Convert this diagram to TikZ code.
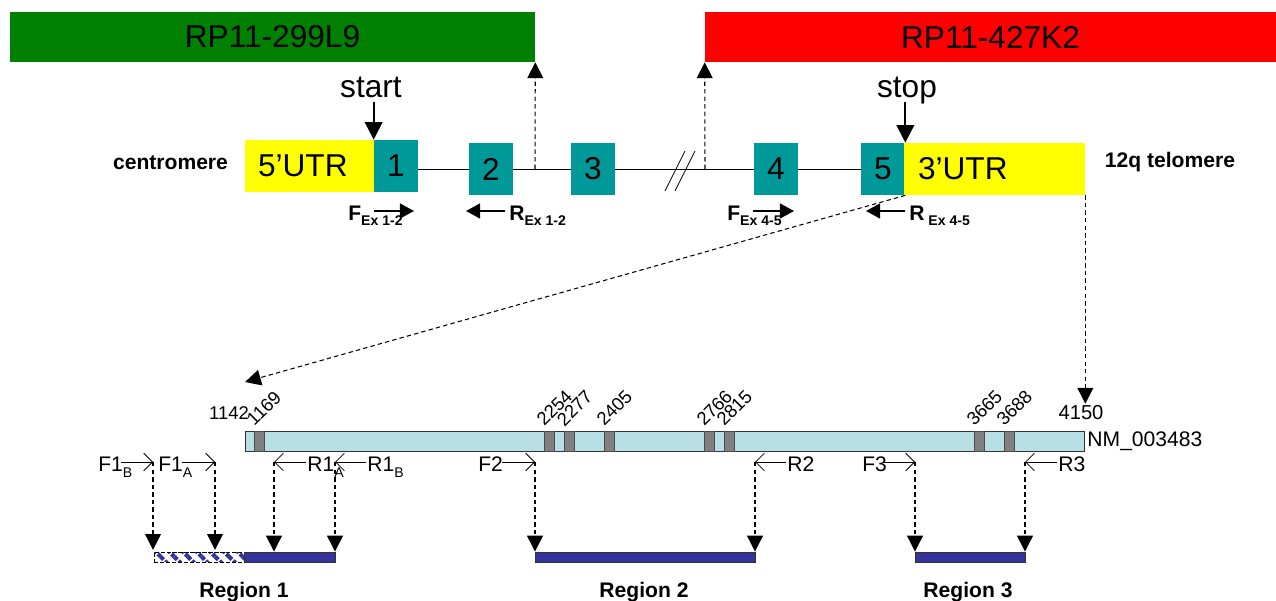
\documentclass[tikz,border=0pt]{standalone}
\usepackage{fontspec}
\setmainfont{Liberation Sans}
\usetikzlibrary{arrows.meta,patterns.meta}
\definecolor{bacvert}{RGB}{0,128,0}
\definecolor{bacrouge}{RGB}{255,0,0}
\definecolor{utrjaune}{RGB}{255,255,0}
\definecolor{exonbleu}{RGB}{0,153,153}
\definecolor{arnm}{RGB}{184,224,228}
\definecolor{snpgris}{RGB}{128,128,128}
\definecolor{ampli}{RGB}{51,51,153}
\newcommand{\amorce}[2]{\textbf{#1}\raisebox{-2.8pt}{\fontsize{8}{9}\selectfont\bfseries #2}}
\newcommand{\psub}[2]{#1\raisebox{-3.4pt}{\fontsize{8}{9}\selectfont #2}}

\begin{document}
\begin{tikzpicture}	[x=0.02cm,y=-0.02cm,
	grand/.style={font=\fontsize{18}{20}\selectfont},
	boite/.style={grand,inner sep=0pt,minimum height=1.04cm},
	gras/.style={font=\fontsize{12}{14}\selectfont\bfseries},
	chiffre/.style={font=\fontsize{10.5}{12}\selectfont,inner sep=1pt},
	petit/.style={font=\fontsize{12}{14}\selectfont,inner sep=0pt},
	bande/.style={draw=black!70,line width=0.5pt,fill=snpgris,minimum width=0.2cm,minimum height=0.4cm,inner sep=0pt},
	ampl/.style={draw=black!80,line width=0.5pt,fill=ampli,minimum height=0.2cm,inner sep=0pt},
	pointille/.style={line width=0.6pt,dash pattern=on 2.5pt off 1.8pt,-{Triangle[length=9pt,width=9pt]}},
	fleche/.style={line width=1.1pt,-{Triangle[length=10pt,width=10pt]}},
	amorceh/.style={line width=0.9pt,-{Triangle[length=8pt,width=8.5pt]}},
	amorceb/.style={line width=0.5pt,-{Straight Barb[length=5pt,width=10pt]}}]

\useasboundingbox (0,0) rectangle (1276,601);

%les clones
\node (bac1) [boite,fill=bacvert,minimum width=10.5cm,minimum height=1cm] at (272.5,37) {RP11-299L9};
\node (bac2) [boite,fill=bacrouge,minimum width=11.42cm,minimum height=1cm] at (990.5,37) {RP11-427K2};

%le gene
\node (utr5) [boite,fill=utrjaune,minimum width=2.58cm,text width=2.06cm,align=left] at (309.5,166) {5'UTR};
\node (ex1) [boite,fill=exonbleu,minimum width=0.88cm] at (396,166) {1};
\node (ex2) [boite,fill=exonbleu,minimum width=0.88cm] at (491,169) {2};
\node (ex3) [boite,fill=exonbleu,minimum width=0.88cm] at (593,169) {3};
\node (ex4) [boite,fill=exonbleu,minimum width=0.88cm] at (776,169) {4};
\node (ex5) [boite,fill=exonbleu,minimum width=0.88cm] at (883,169) {5};
\node (utr3) [boite,fill=utrjaune,minimum width=3.62cm,text width=3.06cm,align=left] at (994.5,169) {3'UTR};
\draw (ex2.west -| ex1.east)--(ex2.west);
\draw (ex2.east)--(ex3.west);
\draw (ex3.east)--(ex4.west);
\draw (ex4.east)--(ex5.west);
\draw (665,191)--(685,151);
\draw (675,191)--(695,151);
\node (centro) [gras,anchor=base] at (170.5,170) {centromere};
\node (telo) [gras,anchor=base] at (1170,168) {12q telomere};

\coordinate (cut1) at (535,169);
\coordinate (cut2) at (705,169);
\draw [pointille] (cut1)--(bac1.south east);
\draw [pointille] (cut2)--(bac2.south west);

\node (start) [grand,anchor=base] at (371,97.5) {start};
\node (stop) [grand,anchor=base] at (907,97.5) {stop};
\coordinate (startb) at ([yshift=-0.09cm]start.base);
\coordinate (stopb) at ([yshift=-0.09cm]stop.base);
\draw [fleche] (startb -| ex1.north west)--(ex1.north west);
\draw [fleche] (stopb -| ex5.north east)--(ex5.north east);

%amorces exons
\node (fex12) [anchor=base west,inner sep=0pt,font=\fontsize{12}{14}\selectfont] at (348,221) {\amorce{F}{Ex 1-2}};
\node (rex12) [anchor=base west,inner sep=0pt,font=\fontsize{12}{14}\selectfont] at (509,221) {\amorce{R}{Ex 1-2}};
\node (fex45) [anchor=base west,inner sep=0pt,font=\fontsize{12}{14}\selectfont] at (727,221) {\amorce{F}{Ex 4-5}};
\node (rex45) [anchor=base west,inner sep=0pt,font=\fontsize{12}{14}\selectfont] at (909,221) {\amorce{R}{\ Ex 4-5}};
\coordinate (f12a) at (374,211); \coordinate (f12b) at (414,211);
\coordinate (r12a) at (505,211); \coordinate (r12b) at (466,211);
\coordinate (f45a) at (753,211); \coordinate (f45b) at (794,211);
\coordinate (r45a) at (905,211); \coordinate (r45b) at (866,211);
\draw [amorceh] (f12a)--(f12b);
\draw [amorceh] (r12a)--(r12b);
\draw [amorceh] (f45a)--(f45b);
\draw [amorceh] (r45a)--(r45b);

%l'ARNm
\node (nm) [draw=black!80,line width=0.5pt,fill=arnm,minimum width=16.8cm,minimum height=0.4cm,inner sep=0pt] at (665,441) {};
\node (nmlab) [petit,anchor=west] at ([xshift=1pt]nm.east) {NM\_003483};
\node (s1142) [chiffre] at (229,413) {1142};
\node (s4150) [chiffre,font=\fontsize{11.5}{13}\selectfont] at (1081,413) {4150};
\node (b1169) [bande] at (259,441) {};
\node (b2254) [bande] at (549,441) {};
\node (b2277) [bande] at (569,441) {};
\node (b2405) [bande] at (609,441) {};
\node (b2766) [bande] at (709,441) {};
\node (b2815) [bande] at (729,441) {};
\node (b3665) [bande] at (979,441) {};
\node (b3688) [bande] at (1009,441) {};
\node [chiffre,rotate=45,anchor=south west,inner sep=0pt] at ([xshift=0.02cm,yshift=0.06cm]b1169.north west) {1169};
\node [chiffre,rotate=45,anchor=south west,inner sep=0pt] at ([xshift=0.02cm,yshift=0.06cm]b2254.north west) {2254};
\node [chiffre,rotate=45,anchor=south west,inner sep=0pt] at ([xshift=0.02cm,yshift=0.06cm]b2277.north west) {2277};
\node [chiffre,rotate=45,anchor=south west,inner sep=0pt] at ([xshift=0.02cm,yshift=0.06cm]b2405.north west) {2405};
\node [chiffre,rotate=45,anchor=south west,inner sep=0pt] at ([xshift=0.02cm,yshift=0.06cm]b2766.north west) {2766};
\node [chiffre,rotate=45,anchor=south west,inner sep=0pt] at ([xshift=0.02cm,yshift=0.06cm]b2815.north west) {2815};
\node [chiffre,rotate=45,anchor=south west,inner sep=0pt] at ([xshift=0.02cm,yshift=0.06cm]b3665.north west) {3665};
\node [chiffre,rotate=45,anchor=south west,inner sep=0pt] at ([xshift=0.02cm,yshift=0.06cm]b3688.north west) {3688};

\coordinate (zoomg) at (245,382);
\draw [pointille] (ex5.south east)--(zoomg);
\draw [pointille] (utr3.south east)--(utr3.south east |- s4150.north);

%amorces regions
\node (lF1B) [petit,anchor=base west] at (98,472) {\psub{F1}{B}};
\node (lF1A) [petit,anchor=base west] at (158,472) {\psub{F1}{A}};
\node (lR1A) [petit,anchor=base west] at (307,472) {\psub{R1}{A}};
\node (lR1B) [petit,anchor=base west] at (367,472) {\psub{R1}{B}};
\node (lF2) [petit,anchor=base west] at (478,472) {F2};
\node (lR2) [petit,anchor=base west] at (787,472) {R2};
\node (lF3) [petit,anchor=base west] at (862,472) {F3};
\node (lR3) [petit,anchor=base west] at (1058,472) {R3};
\coordinate (pF1B) at (153,462); \coordinate (pF1A) at (215,462);
\coordinate (pR1A) at (274,462); \coordinate (pR1B) at (335,462);
\coordinate (pF2) at (535,462); \coordinate (pR2) at (755,462);
\coordinate (pF3) at (915,462); \coordinate (pR3) at (1025,462);
\draw [amorceb] (121,462)--(pF1B);
\draw [amorceb] (182,462)--(pF1A);
\draw [amorceb] (306,462)--(pR1A);
\draw [amorceb] (366,462)--(pR1B);
\draw [amorceb] (502,462)--(pF2);
\draw [amorceb] (786,462)--(pR2);
\draw [amorceb] (884,462)--(pF3);
\draw [amorceb] (1057,462)--(pR3);

%les regions
\node (reg1h) [draw=black,densely dotted,line width=0.5pt,minimum width=1.8cm,minimum height=0.2cm,inner sep=0pt,pattern={Lines[angle=-45,distance=5.5pt,line width=2.4pt]},pattern color=ampli] at (199,557) {};
\node (reg1) [ampl,minimum width=1.82cm] at (289.5,557) {};
\node (reg2) [ampl,minimum width=4.4cm] at (645,557) {};
\node (reg3) [ampl,minimum width=2.2cm] at (970,557) {};
\draw [pointille] (pF1B)--(pF1B |- reg1h.north);
\draw [pointille] (pF1A)--(pF1A |- reg1h.north);
\draw [pointille] (pR1A)--(pR1A |- reg1.north);
\draw [pointille] (pR1B)--(pR1B |- reg1.north);
\draw [pointille] (pF2)--(pF2 |- reg2.north);
\draw [pointille] (pR2)--(pR2 |- reg2.north);
\draw [pointille] (pF3)--(pF3 |- reg3.north);
\draw [pointille] (pR3)--(pR3 |- reg3.north);
\node (lreg1) [gras,anchor=base] at (244,598) {Region 1};
\node (lreg2) [gras,anchor=base] at (644,598) {Region 2};
\node (lreg3) [gras,anchor=base] at (968,598) {Region 3};

\end{tikzpicture}
\end{document}
